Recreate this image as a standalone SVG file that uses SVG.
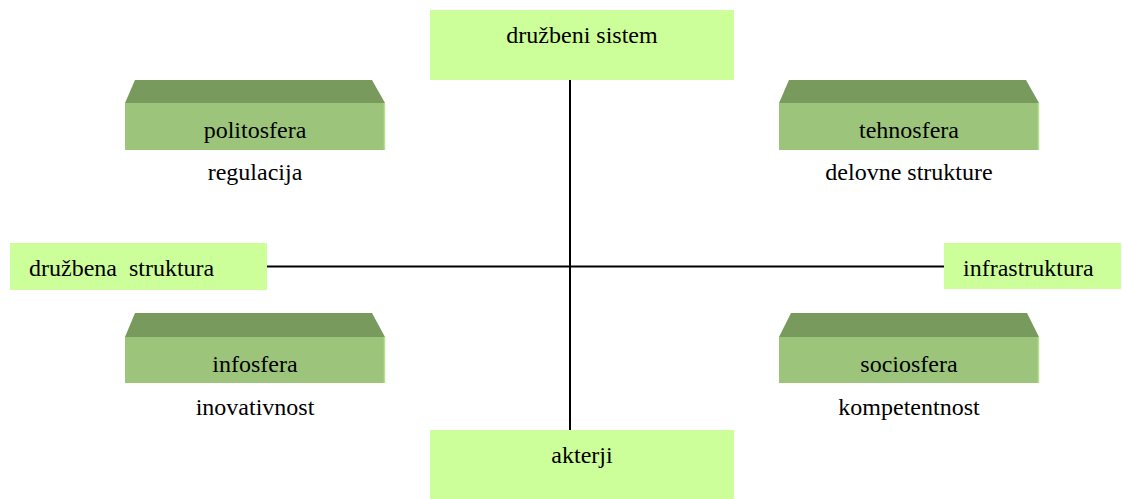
<svg xmlns="http://www.w3.org/2000/svg" width="1122" height="499" viewBox="0 0 1122 499">
<style>
.box{fill:#ccff99}
.top{fill:#799a5d}
.front{fill:#9cc57b}
.edge{stroke:#b6e08f;stroke-width:1.5}
.t{font-size:24px;fill:#000;text-anchor:middle}
.conn{stroke:#000;stroke-width:2;fill:none}
</style>
<rect width="1122" height="499" fill="#fff"/>
<g id="connectors">
<line class="conn" x1="570" y1="80" x2="570" y2="430"/>
<line class="conn" x1="267" y1="266.5" x2="944" y2="266.5"/>
</g>
<g font-family="Liberation Serif, Tinos, DejaVu Serif, serif">
<g id="druzbeni-sistem">
<rect class="box" x="430" y="10" width="304" height="70"/>
<text class="t" x="582" y="43">družbeni sistem</text>
</g>
<g id="akterji">
<rect class="box" x="430" y="430" width="304" height="69"/>
<text class="t" x="582" y="463">akterji</text>
</g>
<g id="druzbena-struktura">
<rect class="box" x="10" y="243" width="257" height="47"/>
<text class="t" x="29" y="276" style="text-anchor:start;white-space:pre" xml:space="preserve">družbena  struktura</text>
</g>
<g id="infrastruktura">
<rect class="box" x="944" y="243" width="177" height="46"/>
<text class="t" x="963" y="276" style="text-anchor:start">infrastruktura</text>
</g>
<g id="politosfera">
<polygon class="top" points="135,80 372,80 385,103 125,103"/>
<rect class="front" x="125" y="103" width="260" height="47"/>
<line class="edge" x1="384.5" y1="103" x2="384.5" y2="150"/>
<text class="t" x="255" y="138">politosfera</text>
<text class="t" x="255" y="180">regulacija</text>
</g>
<g id="tehnosfera">
<polygon class="top" points="789,80 1026,80 1039,103 779,103"/>
<rect class="front" x="779" y="103" width="260" height="47"/>
<line class="edge" x1="1038.5" y1="103" x2="1038.5" y2="150"/>
<text class="t" x="909" y="138">tehnosfera</text>
<text class="t" x="909" y="180">delovne strukture</text>
</g>
<g id="infosfera">
<polygon class="top" points="135,313 372,313 385,337 125,337"/>
<rect class="front" x="125" y="337" width="260" height="46"/>
<line class="edge" x1="384.5" y1="337" x2="384.5" y2="383"/>
<text class="t" x="255" y="372">infosfera</text>
<text class="t" x="255" y="415">inovativnost</text>
</g>
<g id="sociosfera">
<polygon class="top" points="791,313 1027,313 1039,337 779,337"/>
<rect class="front" x="779" y="337" width="260" height="46"/>
<line class="edge" x1="1038.5" y1="337" x2="1038.5" y2="383"/>
<text class="t" x="909" y="372">sociosfera</text>
<text class="t" x="909" y="415">kompetentnost</text>
</g>
</g>
</svg>
